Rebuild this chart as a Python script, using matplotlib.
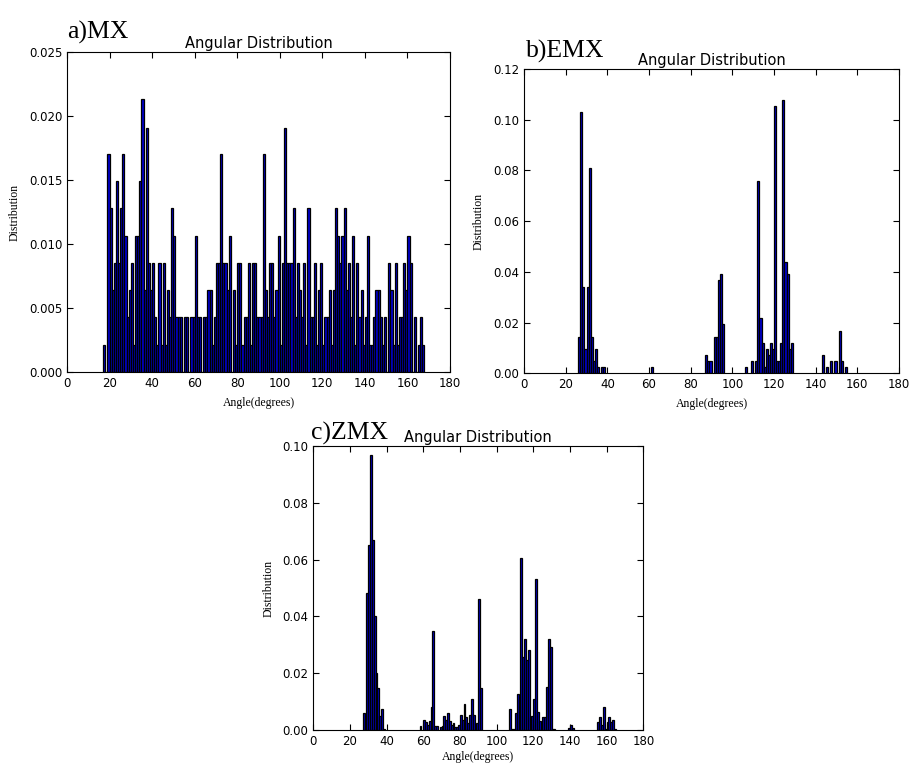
import numpy as np
import matplotlib
matplotlib.use("Agg")
import matplotlib.pyplot as plt

# bin left edges (1 degree bins) and distribution values
mx_angles = np.arange(17, 168)
mx_dist = [
    0.0021, 0.0, 0.0170, 0.0128, 0.0064, 0.0085, 0.0149, 0.0085, 0.0128, 0.0170,
    0.0106, 0.0043, 0.0064, 0.0085, 0.0021, 0.0106, 0.0106, 0.0149, 0.0213, 0.0064,
    0.0191, 0.0085, 0.0064, 0.0085, 0.0043, 0.0021, 0.0085, 0.0021, 0.0085, 0.0021,
    0.0064, 0.0043, 0.0128, 0.0106, 0.0043, 0.0043, 0.0043, 0.0, 0.0043, 0.0043,
    0.0, 0.0043, 0.0043, 0.0106, 0.0043, 0.0043, 0.0, 0.0043, 0.0043, 0.0064,
    0.0064, 0.0021, 0.0043, 0.0085, 0.0085, 0.0170, 0.0085, 0.0085, 0.0064, 0.0106,
    0.0, 0.0064, 0.0021, 0.0085, 0.0085, 0.0021, 0.0043, 0.0043, 0.0085, 0.0021,
    0.0085, 0.0085, 0.0043, 0.0043, 0.0043, 0.0170, 0.0064, 0.0043, 0.0085, 0.0085,
    0.0043, 0.0064, 0.0106, 0.0021, 0.0085, 0.0191, 0.0085, 0.0085, 0.0085, 0.0128,
    0.0043, 0.0085, 0.0064, 0.0043, 0.0085, 0.0021, 0.0128, 0.0043, 0.0043, 0.0085,
    0.0021, 0.0064, 0.0085, 0.0021, 0.0043, 0.0043, 0.0064, 0.0021, 0.0064, 0.0128,
    0.0106, 0.0085, 0.0106, 0.0128, 0.0064, 0.0085, 0.0043, 0.0106, 0.0021, 0.0085,
    0.0043, 0.0064, 0.0021, 0.0043, 0.0106, 0.0021, 0.0021, 0.0043, 0.0064, 0.0064,
    0.0043, 0.0021, 0.0043, 0.0, 0.0085, 0.0064, 0.0021, 0.0085, 0.0021, 0.0043,
    0.0043, 0.0085, 0.0064, 0.0106, 0.0085, 0.0, 0.0043, 0.0, 0.0021, 0.0043, 0.0021,
]

emx_angles = [26, 27, 28, 29, 30, 31, 32, 33, 34, 35, 37, 38, 61,
              87, 88, 89, 91, 92, 93, 94, 95, 106, 109,
              111, 112, 113, 114, 115, 116, 117, 118, 119, 120, 121, 122, 123,
              124, 125, 126, 127, 128, 143, 145, 147, 149, 151, 152, 154]
emx_dist = [0.0144, 0.1028, 0.0341, 0.0097, 0.0341, 0.0810, 0.0144, 0.0049, 0.0097,
            0.0024, 0.0024, 0.0024, 0.0024,
            0.0071, 0.0049, 0.0049, 0.0144, 0.0144, 0.0367, 0.0391, 0.0193, 0.0024, 0.0049,
            0.0049, 0.0757, 0.0219, 0.0121, 0.0024, 0.0097, 0.0071, 0.0121, 0.0097, 0.1052,
            0.0049, 0.0049, 0.0121, 0.1079, 0.0440, 0.0391, 0.0097, 0.0121,
            0.0071, 0.0024, 0.0049, 0.0049, 0.0168, 0.0049, 0.0024]

zmx_angles = [27, 28, 29, 30, 31, 32, 33, 34, 35, 36, 37, 38,
              58, 60, 61, 62, 63, 64, 65, 66, 67,
              69, 70, 71, 72, 73, 74, 75, 76, 77, 78, 79, 80, 81, 82, 83, 84, 85, 86,
              87, 88, 89, 90, 91,
              107, 108, 109, 110, 111, 112, 113, 114, 115, 116, 117, 118, 119, 120,
              121, 122, 123, 124, 125, 126, 127, 128, 129, 130, 131,
              139, 140, 141,
              155, 156, 157, 158, 159, 160, 161, 162, 163, 164]
zmx_dist = [0.0061, 0.0038, 0.0484, 0.0651, 0.0970, 0.0670, 0.0401, 0.0202, 0.0147,
            0.0049, 0.0073, 0.0005,
            0.0015, 0.0035, 0.0028, 0.0018, 0.0033, 0.0082, 0.0347, 0.0015, 0.0015,
            0.0010, 0.0015, 0.0050, 0.0035, 0.0060, 0.0030, 0.0018, 0.0026, 0.0010,
            0.0009, 0.0018, 0.0053, 0.0035, 0.0090, 0.0045, 0.0026, 0.0052, 0.0108,
            0.0052, 0.0005, 0.0026, 0.0460, 0.0147,
            0.0073, 0.0005, 0.0005, 0.0061, 0.0127, 0.0108, 0.0604, 0.0256, 0.0319,
            0.0246, 0.0280, 0.0045, 0.0050, 0.0110, 0.0532, 0.0063, 0.0033, 0.0005,
            0.0045, 0.0045, 0.0153, 0.0321, 0.0293, 0.0005, 0.0005,
            0.0008, 0.0017, 0.0006,
            0.0028, 0.0045, 0.0016, 0.0080, 0.0004, 0.0028, 0.0045, 0.0028, 0.0035, 0.0004]

x_ticks = list(range(0, 181, 20))
mx_yticks = [0.000, 0.005, 0.010, 0.015, 0.020, 0.025]
emx_yticks = [0.00, 0.02, 0.04, 0.06, 0.08, 0.10, 0.12]
zmx_yticks = [0.00, 0.02, 0.04, 0.06, 0.08, 0.10]

plt.rcParams['xtick.direction'] = 'in'
plt.rcParams['ytick.direction'] = 'in'
plt.rcParams['xtick.top'] = True
plt.rcParams['ytick.right'] = True
plt.rcParams['xtick.major.size'] = 4
plt.rcParams['ytick.major.size'] = 4
plt.rcParams['xtick.labelsize'] = 8.5
plt.rcParams['ytick.labelsize'] = 8.5

serif = 'Liberation Serif'


def draw_panel(ax, angles, dist, yticks, fmt, tag, tag_xy, fig, xpad=5):
    ax.bar(angles, dist, width=1.0, align='edge', color='#0000cc',
           edgecolor='black', linewidth=0.9)
    ax.set_xlim(0, 180)
    ax.set_ylim(yticks[0], yticks[-1])
    ax.set_xticks(x_ticks)
    ax.set_yticks(yticks)
    ax.set_yticklabels([fmt.format(v) for v in yticks])
    ax.set_title('Angular Distribution', fontsize=10.5, pad=3)
    ax.set_xlabel('Angle(degrees)', fontsize=8.5, family=serif, labelpad=xpad)
    ax.set_ylabel('Distribution', fontsize=8.5, family=serif, labelpad=6)
    fig.text(tag_xy[0], tag_xy[1], tag, fontsize=18.5, family=serif, va='baseline')


fig = plt.figure(figsize=(9.09, 7.65), dpi=100)

ax_a = fig.add_axes([0.0737, 0.5137, 0.4213, 0.4183])
ax_b = fig.add_axes([0.5765, 0.5120, 0.4125, 0.3980])
ax_c = fig.add_axes([0.3447, 0.0458, 0.3630, 0.3712])

draw_panel(ax_a, mx_angles, mx_dist, mx_yticks, '{:.3f}', 'a)MX', (0.074, 0.950), fig)
draw_panel(ax_b, emx_angles, emx_dist, emx_yticks, '{:.2f}', 'b)EMX', (0.579, 0.925), fig)
draw_panel(ax_c, zmx_angles, zmx_dist, zmx_yticks, '{:.2f}', 'c)ZMX', (0.342, 0.425), fig,
           xpad=2)

fig.savefig('out.png', dpi=100)
